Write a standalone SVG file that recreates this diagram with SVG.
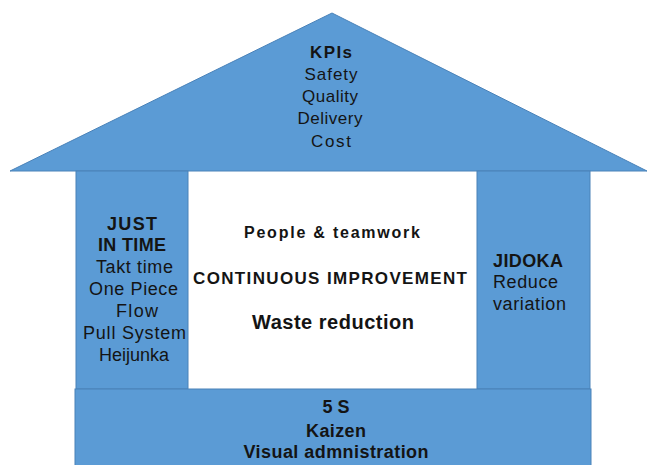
<svg xmlns="http://www.w3.org/2000/svg" width="649" height="465" viewBox="0 0 649 465">
  <style>
    .part { fill: #5b9bd5; stroke: #4a82b8; stroke-width: 1; }
    text { font-family: "Liberation Sans", Arial, sans-serif; fill: #141414; text-anchor: middle; }
    .b { font-weight: bold; }
    .l { text-anchor: start; }
  </style>
  <rect width="649" height="465" fill="#ffffff"/>

  <g id="roof">
    <polygon class="part" points="10,171 332,13 647,171"/>
    <text x="331" y="58" font-size="17" class="b" textLength="42" lengthAdjust="spacing">KPIs</text>
    <text x="331" y="80" font-size="17" textLength="53" lengthAdjust="spacing">Safety</text>
    <text x="330" y="102" font-size="17" textLength="56" lengthAdjust="spacing">Quality</text>
    <text x="330" y="124" font-size="17" textLength="65" lengthAdjust="spacing">Delivery</text>
    <text x="331" y="147" font-size="17" textLength="40" lengthAdjust="spacing">Cost</text>
  </g>

  <g id="just-in-time">
    <rect class="part" x="76" y="171" width="112" height="218"/>
    <text x="132" y="230" font-size="18" class="b" textLength="50" lengthAdjust="spacing">JUST</text>
    <text x="132" y="251" font-size="18" class="b" textLength="68" lengthAdjust="spacing">IN TIME</text>
    <text x="134.5" y="273" font-size="18" textLength="77" lengthAdjust="spacing">Takt time</text>
    <text x="133.5" y="295" font-size="18" textLength="89" lengthAdjust="spacing">One Piece</text>
    <text x="137" y="317" font-size="18" textLength="42" lengthAdjust="spacing">Flow</text>
    <text x="134.5" y="339" font-size="18" textLength="103" lengthAdjust="spacing">Pull System</text>
    <text x="134" y="361" font-size="18" textLength="70" lengthAdjust="spacing">Heijunka</text>
  </g>

  <g id="jidoka">
    <rect class="part" x="477" y="171" width="113" height="218"/>
    <text x="493" y="267" font-size="18" class="b l" textLength="70" lengthAdjust="spacing">JIDOKA</text>
    <text x="493" y="288" font-size="18" class="l" textLength="65" lengthAdjust="spacing">Reduce</text>
    <text x="493" y="310" font-size="18" class="l" textLength="73" lengthAdjust="spacing">variation</text>
  </g>

  <g id="center">
    <text x="332" y="238" font-size="16" class="b" textLength="176" lengthAdjust="spacing">People &amp; teamwork</text>
    <text x="330" y="284" font-size="17" class="b" textLength="274" lengthAdjust="spacing">CONTINUOUS IMPROVEMENT</text>
    <text x="333" y="329" font-size="20" class="b" textLength="162" lengthAdjust="spacing">Waste reduction</text>
  </g>

  <g id="foundation">
    <rect class="part" x="75" y="389" width="516" height="80"/>
    <text x="336" y="413" font-size="18" class="b" textLength="27" lengthAdjust="spacing">5 S</text>
    <text x="336" y="437" font-size="18" class="b" textLength="60" lengthAdjust="spacing">Kaizen</text>
    <text x="336" y="458" font-size="18" class="b" textLength="185" lengthAdjust="spacing">Visual admnistration</text>
  </g>

  <g id="connectors"></g>
</svg>
